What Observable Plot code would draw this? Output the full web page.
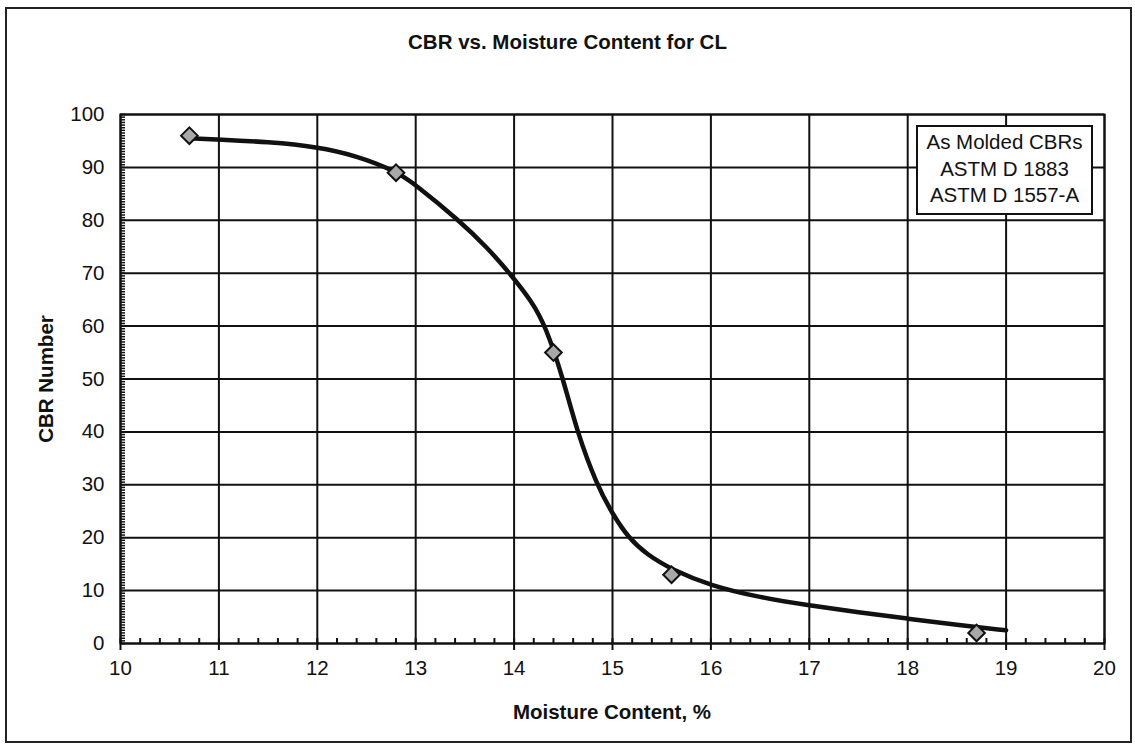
<!DOCTYPE html>
<html><head><meta charset="utf-8">
<script src="https://cdn.jsdelivr.net/npm/d3@7"></script>
<script src="https://cdn.jsdelivr.net/npm/@observablehq/plot@0.6"></script>
<style>
body{margin:0;background:#fff;font-family:Arial,"Liberation Sans",sans-serif;color:#111;}
#wrap{position:relative;width:1135px;height:747px;overflow:hidden;background:#fff;}
#chart{position:absolute;left:0;top:0;}
#frame{position:absolute;left:5px;top:7px;width:1127px;height:736px;border:2px solid #222;box-sizing:border-box;pointer-events:none;}
#title{position:absolute;left:0;width:1135px;top:30px;text-align:center;font-weight:bold;font-size:20.5px;}
#xlabel{position:absolute;left:462px;width:300px;top:700px;text-align:center;font-weight:bold;font-size:20.5px;white-space:nowrap;}
#ylabel{position:absolute;left:46px;top:379px;transform:translate(-50%,-50%) rotate(-90deg);font-weight:bold;font-size:20.5px;white-space:nowrap;}
#legend{position:absolute;left:916px;top:125px;width:177px;height:90px;border:2px solid #111;background:#fff;box-sizing:border-box;text-align:center;font-size:20.5px;line-height:26.5px;padding-top:2px;}
</style>
</head><body>
<div id="wrap">
  <div id="chart"></div>
  <div id="frame"></div>
  <div id="title">CBR vs. Moisture Content for CL</div>
  <div id="xlabel">Moisture Content, %</div>
  <div id="ylabel">CBR Number</div>
  <div id="legend">As Molded CBRs<br>ASTM D 1883<br>ASTM D 1557-A</div>
</div>
<script>
// Measured points
const moisture = [10.7, 12.8, 14.4, 15.6, 18.7];
const cbr = [96, 89, 55, 13, 2];

// Fitted curve
const curveMoisture = [10.7, 11, 11.5, 12, 12.4, 12.8, 13, 13.44, 13.73, 13.955, 14.18, 14.32, 14.5, 14.64, 14.84, 15, 15.16, 15.35, 15.6, 16, 16.5, 17, 17.5, 18, 18.5, 19];
const curveCBR = [95.5, 95.3, 94.8, 93.9, 92.2, 89.3, 86.7, 80, 74.8, 70, 64.7, 60, 50, 40, 30, 24.5, 20, 16.8, 14.0, 10.9, 8.7, 7.2, 5.9, 4.7, 3.5, 2.5];

// Axis ticks
const xTicks = [10, 11, 12, 13, 14, 15, 16, 17, 18, 19, 20];
const yTicks = [0, 10, 20, 30, 40, 50, 60, 70, 80, 90, 100];
const xMinor = d3.range(10, 20.001, 0.2).map(v => +v.toFixed(1));
const yMinor = d3.range(0, 100.001, 0.5);

const points = moisture.map((m, i) => ({m, c: cbr[i]}));
const curve = curveMoisture.map((m, i) => ({m, c: curveCBR[i]}));

const ink = "#111";
const plot = Plot.plot({
  width: 1135,
  height: 747,
  marginLeft: 120,
  marginRight: 31,
  marginTop: 114,
  marginBottom: 104,
  x: {domain: [10, 20]},
  y: {domain: [0, 100]},
  style: {fontFamily: "Arial, 'Liberation Sans', sans-serif", fontSize: "20.5px", color: ink, background: "transparent"},
  marks: [
    Plot.gridX(xTicks, {stroke: ink, strokeOpacity: 1, strokeWidth: 2}),
    Plot.gridY(yTicks, {stroke: ink, strokeOpacity: 1, strokeWidth: 2}),
    Plot.frame({stroke: ink, strokeWidth: 2}),
    Plot.axisX(xMinor, {tickSize: -5, strokeWidth: 2, text: null, label: null, stroke: ink}),
    Plot.axisY(yMinor, {tickSize: -5, strokeWidth: 1.5, text: null, label: null, stroke: ink}),
    Plot.axisX(xTicks, {tickSize: 7, strokeWidth: 2, tickPadding: 10, label: null, fill: ink, stroke: ink}),
    Plot.axisY(yTicks, {tickSize: 0, tickPadding: 16, label: null, fill: ink}),
    Plot.line(curve, {x: "m", y: "c", curve: "basis", stroke: ink, strokeWidth: 4.5}),
    Plot.dot(points, {x: "m", y: "c", symbol: "diamond2", r: 7.5, fill: "#a8a8a8", stroke: ink, strokeWidth: 2})
  ]
});
document.getElementById("chart").appendChild(plot);
</script>
</body></html>
